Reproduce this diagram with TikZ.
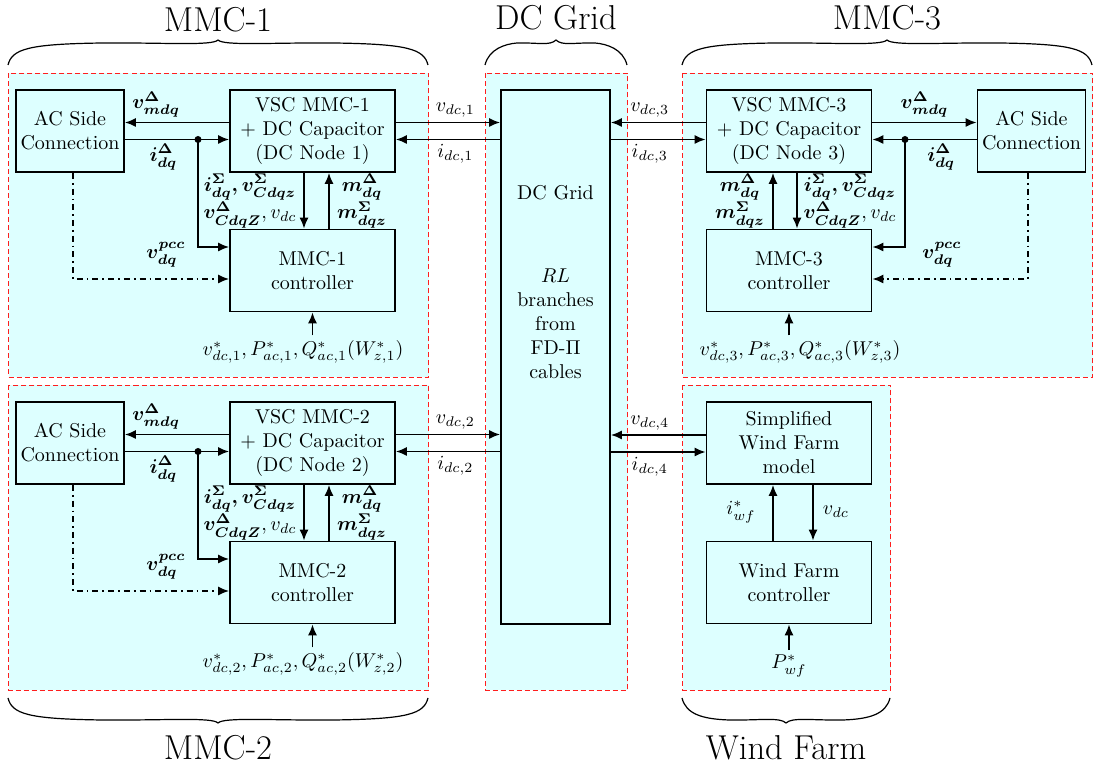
\documentclass[tikz,border=0pt]{standalone}
\usepackage{amsmath,amssymb}
\usetikzlibrary{arrows.meta}
\definecolor{zonefill}{RGB}{221,255,255}
\definecolor{zoneline}{RGB}{255,30,30}

% accolade de groupe : x gauche, x droit, y des pointes, sens (1 vers le haut, -1 vers le bas)
\newcommand{\grpbrace}[4]{%
  \draw[line width=.6pt] (#1,#3)
    .. controls ({#1+4},{#3-(#4)*16}) and ({#1+20},{#3-(#4)*21}) .. ({#1+.225*(#2-#1)},{#3-(#4)*22})
    .. controls ({(#1+#2)/2-.125*(#2-#1)},{#3-(#4)*22.5}) and ({(#1+#2)/2-6},{#3-(#4)*19}) .. ({(#1+#2)/2},{#3-(#4)*25})
    .. controls ({(#1+#2)/2+6},{#3-(#4)*19}) and ({(#1+#2)/2+.125*(#2-#1)},{#3-(#4)*22.5}) .. ({#2-.225*(#2-#1)},{#3-(#4)*22})
    .. controls ({#2-20},{#3-(#4)*21}) and ({#2-4},{#3-(#4)*16}) .. (#2,#3);}

\begin{document}
\begin{tikzpicture}[x=.5pt,y=-.5pt,line width=.85pt,
  zone/.style={draw=zoneline,line width=.6pt,dash pattern=on 2.5pt off 1.5pt,fill=zonefill},
  blk/.style={draw,align=center,minimum width=82.5pt,minimum height=41pt,inner sep=2pt},
  acblk/.style={blk,minimum width=54pt},
  sig/.style={-{Latex[length=5.5pt,width=4.5pt]}},
  lbl/.style={inner sep=2pt},
  grp/.style={font=\LARGE},
  jn/.style={circle,fill,inner sep=0pt,minimum size=3.5pt}]
\useasboundingbox (0,0) rectangle (1094,769);
% zones colorees
\draw[zone] (8.5,73.5) rectangle (428.5,377.5);
\draw[zone] (8.5,385.5) rectangle (428.5,690.5);
\draw[zone] (485.5,73.5) rectangle (627.5,690.5);
\draw[zone] (682.5,73.5) rectangle (1092.5,377.5);
\draw[zone] (682.5,385.5) rectangle (890.5,690.5);
% accolades et titres des groupes
\grpbrace{8}{428}{65}{1}
\node[grp] (g1) at (218,20) {MMC-1};
\grpbrace{485}{627}{65}{1}
\node[grp] (g0) at (556,18) {DC Grid};
\grpbrace{682}{1092}{65}{1}
\node[grp] (g3) at (887,18) {MMC-3};
\grpbrace{8}{428}{698}{-1}
\node[grp] (g2) at (218,748) {MMC-2};
\grpbrace{682}{890}{698}{-1}
\node[grp] (g4) at (786,748) {Wind Farm};
% reseau DC central
\node[draw,minimum width=54.5pt,minimum height=267pt] (dcg) at (555.5,357) {};
\node[align=center] (dctxt) at (555.5,282) {DC Grid\\[29.5pt]$RL$\\branches\\from\\FD-$\Pi$\\cables};
\begin{scope}
% station MMC-1
\node[acblk] (ac1) at (70,131) {AC Side\\Connection};
\node[blk] (vsc1) at (312.5,131) {VSC MMC-1\\+ DC Capacitor\\(DC Node 1)};
\node[blk] (ctl1) at (312.5,270.5) {MMC-1\\controller};
\node[jn] (j1) at (198,139.5) {};
\draw[sig] ([yshift=4.25pt]vsc1.west) -- ([yshift=4.25pt]ac1.east) node[lbl,above,pos=.7] {$\boldsymbol{v^{\Delta}_{mdq}}$};
\draw[sig] ([yshift=-4.25pt]ac1.east) -- ([yshift=-4.25pt]vsc1.west) node[lbl,below,pos=.37] {$\boldsymbol{i^{\Delta}_{dq}}$};
\draw[sig] (j1.center) |- ([yshift=11.75pt]ctl1.west);
\draw[sig,dash dot] ([xshift=1.5pt]ac1.south) |- ([yshift=-4.25pt]ctl1.west);
\draw[sig] ([xshift=-4.25pt]vsc1.south) -- ([xshift=-4.25pt]ctl1.north);
\draw[sig] ([xshift=8.25pt]ctl1.north) -- ([xshift=8.25pt]vsc1.south);
\node[lbl,align=center] (s1) at (250,201) {$\boldsymbol{i^{\Sigma}_{dq}, v^{\Sigma}_{Cdqz}}$\\$\boldsymbol{v^{\Delta}_{CdqZ}}, v_{dc}$};
\node[lbl,align=center] (m1) at (362,201) {$\boldsymbol{m^{\Delta}_{dq}}$\\$\boldsymbol{m^{\Sigma}_{dqz}}$};
\node[lbl] (p1) at (166,255) {$\boldsymbol{v^{pcc}_{dq}}$};
\node[lbl] (r1) at (303,352) {$v^*_{dc,1}, P^*_{ac,1}, Q^*_{ac,1}(W^*_{z,1})$};
\draw[sig] (r1.north -| ctl1.south) -- (ctl1.south);
\draw[sig] ([yshift=4.25pt]vsc1.east) -- ([yshift=4.25pt]dcg.west |- vsc1.east) node[lbl,above,pos=.57] {$v_{dc,1}$};
\draw[sig] ([yshift=-4.25pt]dcg.west |- vsc1.east) -- ([yshift=-4.25pt]vsc1.east) node[lbl,below,pos=.43] {$i_{dc,1}$};
\end{scope}
\begin{scope}[yshift=-156pt]
% station MMC-2
\node[acblk] (ac2) at (70,131) {AC Side\\Connection};
\node[blk] (vsc2) at (312.5,131) {VSC MMC-2\\+ DC Capacitor\\(DC Node 2)};
\node[blk] (ctl2) at (312.5,270.5) {MMC-2\\controller};
\node[jn] (j2) at (198,139.5) {};
\draw[sig] ([yshift=4.25pt]vsc2.west) -- ([yshift=4.25pt]ac2.east) node[lbl,above,pos=.7] {$\boldsymbol{v^{\Delta}_{mdq}}$};
\draw[sig] ([yshift=-4.25pt]ac2.east) -- ([yshift=-4.25pt]vsc2.west) node[lbl,below,pos=.37] {$\boldsymbol{i^{\Delta}_{dq}}$};
\draw[sig] (j2.center) |- ([yshift=11.75pt]ctl2.west);
\draw[sig,dash dot] ([xshift=1.5pt]ac2.south) |- ([yshift=-4.25pt]ctl2.west);
\draw[sig] ([xshift=-4.25pt]vsc2.south) -- ([xshift=-4.25pt]ctl2.north);
\draw[sig] ([xshift=8.25pt]ctl2.north) -- ([xshift=8.25pt]vsc2.south);
\node[lbl,align=center] (s2) at (250,201) {$\boldsymbol{i^{\Sigma}_{dq}, v^{\Sigma}_{Cdqz}}$\\$\boldsymbol{v^{\Delta}_{CdqZ}}, v_{dc}$};
\node[lbl,align=center] (m2) at (362,201) {$\boldsymbol{m^{\Delta}_{dq}}$\\$\boldsymbol{m^{\Sigma}_{dqz}}$};
\node[lbl] (p2) at (166,255) {$\boldsymbol{v^{pcc}_{dq}}$};
\node[lbl] (r2) at (303,352) {$v^*_{dc,2}, P^*_{ac,2}, Q^*_{ac,2}(W^*_{z,2})$};
\draw[sig] (r2.north -| ctl2.south) -- (ctl2.south);
\draw[sig] ([yshift=4.25pt]vsc2.east) -- ([yshift=4.25pt]dcg.west |- vsc2.east) node[lbl,above,pos=.57] {$v_{dc,2}$};
\draw[sig] ([yshift=-4.25pt]dcg.west |- vsc2.east) -- ([yshift=-4.25pt]vsc2.east) node[lbl,below,pos=.43] {$i_{dc,2}$};
\end{scope}
% station MMC-3
\node[blk] (vsc3) at (789,131) {VSC MMC-3\\+ DC Capacitor\\(DC Node 3)};
\node[acblk] (ac3) at (1031.5,131) {AC Side\\Connection};
\node[blk] (ctl3) at (789,270.5) {MMC-3\\controller};
\node[jn] (j3) at (905,139.5) {};
\draw[sig] ([yshift=4.25pt]vsc3.east) -- ([yshift=4.25pt]ac3.west) node[lbl,above,pos=.5] {$\boldsymbol{v^{\Delta}_{mdq}}$};
\draw[sig] ([yshift=-4.25pt]ac3.west) -- ([yshift=-4.25pt]vsc3.east) node[lbl,below,pos=.34] {$\boldsymbol{i^{\Delta}_{dq}}$};
\draw[sig] (j3.center) |- ([yshift=11.75pt]ctl3.east);
\draw[sig,dash dot] ([xshift=-1.75pt]ac3.south) |- ([yshift=-4.25pt]ctl3.east);
\draw[sig] ([xshift=4pt]vsc3.south) -- ([xshift=4pt]ctl3.north);
\draw[sig] ([xshift=-8pt]ctl3.north) -- ([xshift=-8pt]vsc3.south);
\node[lbl,align=center] (m3) at (740,201) {$\boldsymbol{m^{\Delta}_{dq}}$\\$\boldsymbol{m^{\Sigma}_{dqz}}$};
\node[lbl,align=center] (s3) at (850,201) {$\boldsymbol{i^{\Sigma}_{dq}, v^{\Sigma}_{Cdqz}}$\\$\boldsymbol{v^{\Delta}_{CdqZ}}, v_{dc}$};
\node[lbl] (p3) at (942,255) {$\boldsymbol{v^{pcc}_{dq}}$};
\node[lbl] (r3) at (800,352) {$v^*_{dc,3}, P^*_{ac,3}, Q^*_{ac,3}(W^*_{z,3})$};
\draw[sig] (r3.north -| ctl3.south) -- (ctl3.south);
\draw[sig] ([yshift=4.25pt]vsc3.west) -- ([yshift=4.25pt]dcg.east |- vsc3.west) node[lbl,above,pos=.59] {$v_{dc,3}$};
\draw[sig] ([yshift=-4.25pt]dcg.east |- vsc3.west) -- ([yshift=-4.25pt]vsc3.west) node[lbl,below,pos=.41] {$i_{dc,3}$};
% parc eolien
\node[blk] (wfm) at (789,443) {Simplified\\Wind Farm\\model};
\node[blk] (wfc) at (789,582.5) {Wind Farm\\controller};
\draw[sig] ([yshift=4pt]wfm.west) -- ([yshift=4pt]dcg.east |- wfm.west) node[lbl,above,pos=.59] {$v_{dc,4}$};
\draw[sig] ([yshift=-4.5pt]dcg.east |- wfm.west) -- ([yshift=-4.5pt]wfm.west) node[lbl,below,pos=.41] {$i_{dc,4}$};
\draw[sig] ([xshift=-8pt]wfc.north) -- ([xshift=-8pt]wfm.south);
\draw[sig] ([xshift=12pt]wfm.south) -- ([xshift=12pt]wfc.north);
\node[lbl] (iw) at (741,512) {$i^*_{wf}$};
\node[lbl] (vw) at (836,512) {$v_{dc}$};
\node[lbl] (pw) at (789,666) {$P^*_{wf}$};
\draw[sig] (pw.north -| wfc.south) -- (wfc.south);
\end{tikzpicture}
\end{document}
